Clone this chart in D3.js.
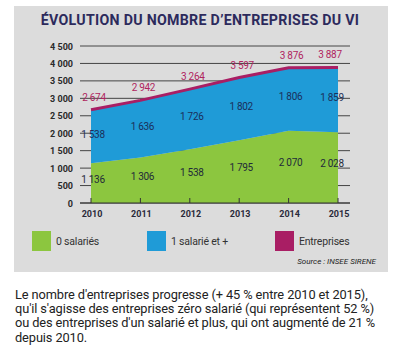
<!DOCTYPE html>
<html>
  <head>
    <meta charset="UTF-8" />
    <script src="https://d3js.org/d3.v7.min.js"></script>
    <style>
      body { margin: 0; background: #fff; font-family: Roboto, sans-serif; }
      p { margin: 0; position: absolute; left: 15px; top: 288px; white-space: nowrap;
          font-size: 12.8px; line-height: 14.2px; color: #222; letter-spacing: -0.1px; }
    </style>
  </head>
  <body>
    <svg width="404" height="285"></svg>
    <p>Le nombre d'entreprises progresse (+ 45 % entre 2010 et 2015),<br>qu'il s'agisse des entreprises zéro salarié (qui représentent 52 %)<br>ou des entreprises d'un salarié et plus, qui ont augmenté de 21 %<br>depuis 2010.</p>
    <script>
      // données
      const years = ["2010", "2011", "2012", "2013", "2014", "2015"]
      const zeroSal = [1136, 1306, 1538, 1795, 2070, 2028]
      const unSal = [1538, 1636, 1726, 1802, 1806, 1859]
      const totals = [2674, 2942, 3264, 3597, 3876, 3887]
      const yTicks = [0, 500, 1000, 1500, 2000, 2500, 3000, 3500, 4000, 4500]

      const green = "#8cc63f", blue = "#1f9bd7", magenta = "#a91e64"
      const fmt = (v) => d3.format(",")(v).replace(",", " ")

      const svg = d3.select("svg")
      svg.append("rect").attr("x", 14).attr("y", 6).attr("width", 374).attr("height", 266).attr("fill", "#dcdcdc")

      svg.append("text").attr("x", 200).attr("y", 25).attr("text-anchor", "middle")
        .attr("font-size", 14.2).attr("font-weight", "bold").attr("fill", "#2c2a5c")
        .attr("letter-spacing", 0.3)
        .text("ÉVOLUTION DU NOMBRE D’ENTREPRISES DU VI")

      const x = d3.scalePoint().domain(years).range([91, 338])
      const y = d3.scaleLinear().domain([0, 4500]).range([203, 46])

      // grille
      svg.append("g").selectAll("line").data(yTicks).join("line")
        .attr("x1", 80).attr("x2", 350)
        .attr("y1", (d) => y(d)).attr("y2", (d) => y(d))
        .attr("stroke", "#333").attr("stroke-width", 0.9)
      svg.append("g").selectAll("text").data(yTicks).join("text")
        .attr("x", 73).attr("y", (d) => y(d) + 3.5).attr("text-anchor", "end")
        .attr("font-size", 9).attr("font-weight", "bold").attr("fill", "#2a2a2a")
        .text((d) => fmt(d))

      // aires
      const stack = years.map((yr, i) => ({ yr, g: zeroSal[i], b: zeroSal[i] + unSal[i], t: totals[i] }))
      svg.append("path").datum(stack)
        .attr("d", d3.area().x((d) => x(d.yr)).y0(y(0)).y1((d) => y(d.g)))
        .attr("fill", green)
      svg.append("path").datum(stack)
        .attr("d", d3.area().x((d) => x(d.yr)).y0((d) => y(d.g)).y1((d) => y(d.b)))
        .attr("fill", blue)
      svg.append("path").datum(stack)
        .attr("d", d3.line().x((d) => x(d.yr)).y((d) => y(d.t)))
        .attr("fill", "none").attr("stroke", magenta).attr("stroke-width", 3)

      // axe x
      svg.append("line").attr("x1", 80).attr("x2", 350).attr("y1", y(0)).attr("y2", y(0))
        .attr("stroke", "#333").attr("stroke-width", 1)
      svg.append("g").selectAll("line").data(years).join("line")
        .attr("x1", (d) => x(d)).attr("x2", (d) => x(d))
        .attr("y1", y(0) - 5).attr("y2", y(0))
        .attr("stroke", "#333").attr("stroke-width", 1)
      svg.append("g").selectAll("text").data(years).join("text")
        .attr("x", (d) => x(d) + 1).attr("y", 217).attr("text-anchor", "middle")
        .attr("font-size", 9).attr("font-weight", "bold").attr("fill", "#2a2a3a")
        .text((d) => d)

      // étiquettes
      const lx = (d, i) => Math.min(x(d.yr) + 2, 332)
      svg.append("g").selectAll("text").data(stack).join("text")
        .attr("x", lx).attr("y", (d) => (y(0) + y(d.g)) / 2)
        .attr("dy", "-0.05em").attr("text-anchor", "middle")
        .attr("font-size", 10).attr("fill", "#1f2a3a").attr("letter-spacing", -0.3)
        .text((d) => fmt(d.g))
      svg.append("g").selectAll("text").data(stack).join("text")
        .attr("x", lx).attr("y", (d) => (y(d.g) + y(d.b)) / 2)
        .attr("dy", "0.1em").attr("text-anchor", "middle")
        .attr("font-size", 10).attr("fill", "#1b2f5a").attr("letter-spacing", -0.3)
        .text((d, i) => fmt(unSal[i]))
      svg.append("g").selectAll("text").data(stack).join("text")
        .attr("x", (d) => Math.min(x(d.yr) + 3, 330)).attr("y", (d) => y(d.t) - 9)
        .attr("text-anchor", "middle")
        .attr("font-size", 10).attr("fill", "#b0245e").attr("letter-spacing", -0.3)
        .text((d) => fmt(d.t))

      // légende
      const legend = [["0 salariés", green, 32], ["1 salarié et +", blue, 147], ["Entreprises", magenta, 275]]
      const lg = svg.append("g").selectAll("g").data(legend).join("g")
      lg.append("rect").attr("x", (d) => d[2]).attr("y", 231).attr("width", 19).attr("height", 20).attr("fill", (d) => d[1])
      lg.append("text").attr("x", (d) => d[2] + 24).attr("y", 245)
        .attr("font-size", 10.5).attr("fill", "#333").attr("letter-spacing", -0.2)
        .text((d) => d[0])

      svg.append("text").attr("x", 376).attr("y", 264).attr("text-anchor", "end")
        .attr("font-size", 8).attr("font-style", "italic").attr("fill", "#222")
        .text("Source : INSEE SIRENE")
    </script>
  </body>
</html>
